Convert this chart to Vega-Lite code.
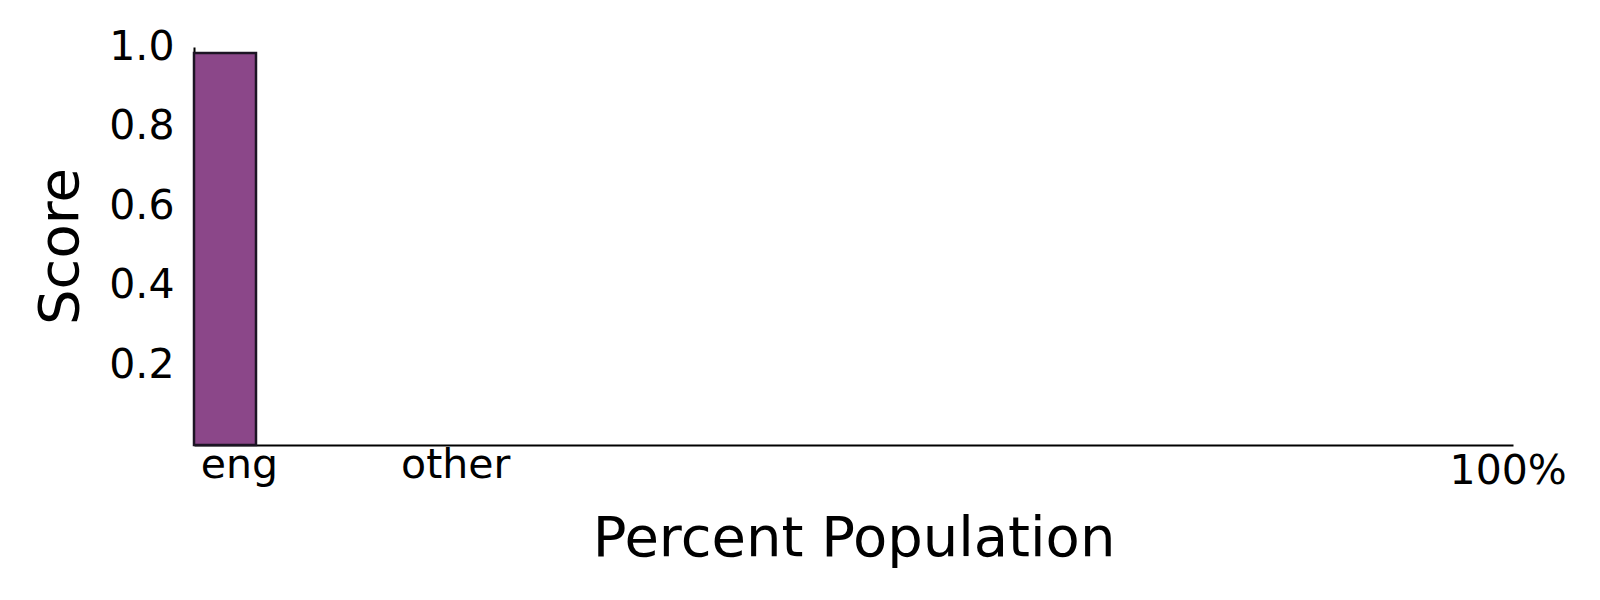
{
  "$schema": "https://vega.github.io/schema/vega-lite/v6.json",
  "autosize": {"type": "none"},
  "padding": {"left": 194, "top": 47, "right": 87, "bottom": 155},
  "width": 1319,
  "height": 398,
  "background": "white",
  "config": {
    "view": {"stroke": null},
    "font": "DejaVu Sans"
  },
  "data": {"values": [
    {"group": "eng", "start": 0, "end": 4.7, "score": 0.985}
  ]},
  "mark": {"type": "bar", "fill": "#8B4789", "stroke": "#1c1424", "strokeWidth": 2.5},
  "encoding": {
    "x": {
      "field": "start", "type": "quantitative",
      "scale": {"domain": [0, 100], "nice": false, "zero": false},
      "axis": {
        "title": "Percent Population",
        "titleFont": "DejaVu Sans", "titleFontSize": 56, "titleFontWeight": "normal",
        "titleColor": "black", "titlePadding": 20,
        "values": [3.4, 19.8, 99.6],
        "labelExpr": "datum.value < 10 ? 'eng' : (datum.value < 50 ? 'other' : '100%')",
        "labelFont": "DejaVu Sans", "labelFontSize": 41, "labelColor": "black",
        "labelPadding": {"condition": {"test": "datum.value > 50", "value": 6}, "value": 0},
        "labelBaseline": "top",
        "labelFlush": false, "labelOverlap": false,
        "ticks": false, "grid": false,
        "domainColor": "black", "domainWidth": 2
      }
    },
    "x2": {"field": "end"},
    "y": {
      "field": "score", "type": "quantitative",
      "scale": {"domain": [0, 1], "nice": false},
      "axis": {
        "title": "Score",
        "titleFont": "DejaVu Sans", "titleFontSize": 56, "titleFontWeight": "normal",
        "titleColor": "black", "titlePadding": 19,
        "values": [0.2, 0.4, 0.6, 0.8, 1.0],
        "format": ".1f",
        "labelFont": "DejaVu Sans", "labelFontSize": 41, "labelColor": "black",
        "labelPadding": 20,
        "ticks": false, "grid": false,
        "domainColor": "black", "domainWidth": 2
      }
    },
    "y2": {"datum": 0}
  }
}
